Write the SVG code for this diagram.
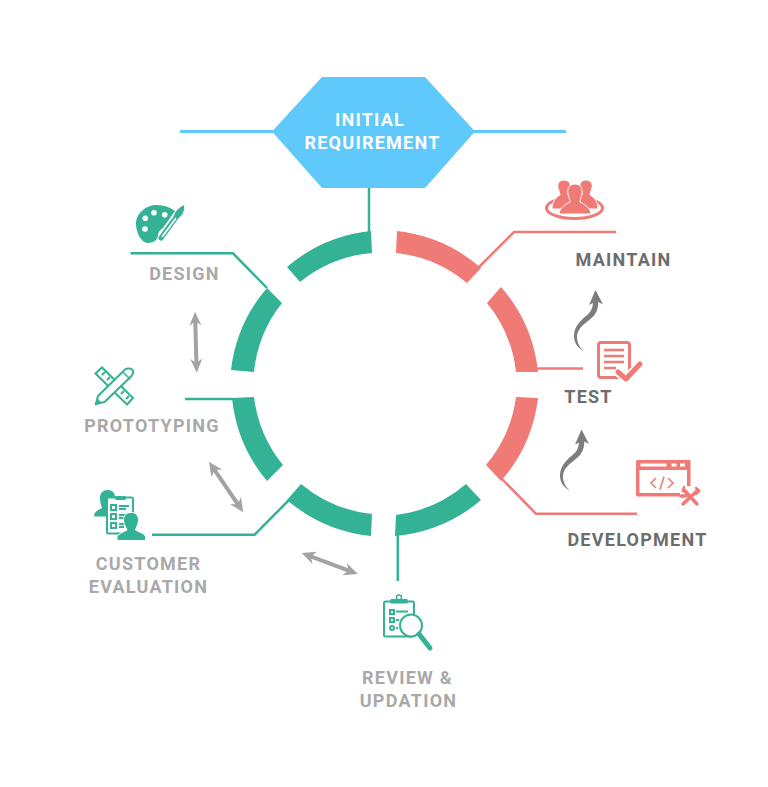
<svg xmlns="http://www.w3.org/2000/svg" width="768" height="787" viewBox="0 0 768 787">
<style>
.g{fill:#33b295}.r{fill:#ef7a76}
.cg,.cr,.cb{fill:none;stroke-width:2.5}
.cg{stroke:#33b295}.cr{stroke:#ef7a76}.cb{stroke:#5ec9fa;stroke-width:2.8}
.ga{fill:#a3a3a3}.da{fill:#7d7d7d}
text{font-family:Roboto,"Liberation Sans",sans-serif;font-weight:700;font-size:18px;text-anchor:middle;letter-spacing:1.25px}
.l{fill:#a9a9a9}.d{fill:#6d6d6d}.w{fill:#fff}
.og{fill:none;stroke:#33b295;stroke-width:2}
</style>
<rect width="768" height="787" fill="#fff"/>
<g id="connectors">
<path class="cb" d="M180,131.500H566"/>
<path class="cg" d="M369,188V232"/>
<path class="cg" d="M130.500,253.300H233L267,288"/>
<path class="cg" d="M185,399H233"/>
<path class="cg" d="M152,534.800H254.500L289,500"/>
<path class="cg" d="M397.800,515V581"/>
<path class="cr" d="M501,478L536,513.800H637"/>
<path class="cr" d="M537,368.500H583"/>
<path class="cr" d="M478,268L514,232H616"/>
<g id="double-arrows" class="ga">
<path d="M195,311.700L201.400,325.500L197.300,322.600L198.400,361.600L202.300,358.500L196.700,372.700L190.300,358.900L194.400,361.800L193.300,322.800L189.400,325.900Z"/>
<path d="M209,461.700L222.200,469.700L216.900,469.700L238.800,502.100L240.900,497.100L243.300,512.300L230.100,504.300L235.400,504.300L213.500,471.900L211.400,476.900Z"/>
<path d="M301.700,553L317.100,551.800L312.700,555L348.100,568.200L346.900,563L357.700,574L342.300,575.200L346.700,572L311.300,558.800L312.500,564Z"/>
</g>
<g id="curly-arrows" class="da">
<path id="ca" d="M595.500,290L603,304.500L598.300,302C598.300,312 594,316.500 588,321C581,326 577,331 577,337C577,343 580,348 584,351C577,348 573.500,341 574,335C574.500,326 581,320 586,316C590,313 592.500,309 593,303L589,305Z"/>
<use href="#ca" x="-14" y="139.500"/>
</g>
</g>
<g id="ring">
<path class="g" d="M287,267A153,153 0 0 1 371,231L372,253A132,132 0 0 0 300,282Z"/>
<path class="g" d="M231,370A153,153 0 0 1 267,288L282,303A132,132 0 0 0 254,372Z"/>
<path class="g" d="M267,481A153,153 0 0 1 232,398L254,397A132,132 0 0 0 283,465Z"/>
<path class="g" d="M371,536A153,153 0 0 1 287,500L301,484A132,132 0 0 0 372,514Z"/>
<path class="g" d="M395,536L396,515A132,132 0 0 0 466,484L481,500A153,153 0 0 1 395,536Z"/>
<path class="r" d="M501,481L486,465A132,132 0 0 0 516,397L538,398A153,153 0 0 1 501,481Z"/>
<path class="r" d="M538,372L516,372A132,132 0 0 0 487,303L501,287A153,153 0 0 1 538,372Z"/>
<path class="r" d="M397,231A153,153 0 0 1 481,268L467,283A132,132 0 0 0 396,253Z"/>
</g>
<g id="initial-requirement">
<polygon points="272,131.500 322,77 425,77 475,131.500 425,188 322,188" fill="#5ec9fa"/>
<text class="w" x="370" y="126">INITIAL</text>
<text class="w" x="372.500" y="149">REQUIREMENT</text>
</g>
<g id="design">
<path class="g" d="M157,205C164,205 170,207 175,211L163,228C160,230 158,232 158,235C158,240 153,243 148,243C141,243 136,232 136,224C136,213 146,205 157,205Z"/>
<path d="M177,216L161,238" stroke="#33b295" stroke-width="5" stroke-linecap="round" fill="none"/>
<path d="M176,218L162,237" stroke="#fff" stroke-width="1.800" fill="none"/>
<path class="g" d="M184,205C185,211 182,216 177,219L174,215C176,210 180,207 184,205Z"/>
<g fill="#fff"><circle cx="154" cy="212.700" r="2.800"/><circle cx="164.700" cy="214.700" r="2.800"/><circle cx="145.300" cy="218.300" r="2.800"/><circle cx="145" cy="229" r="2.800"/></g>
<text class="l" x="184.500" y="280">DESIGN</text>
</g>
<g id="prototyping">
<g class="og"><path d="M95.500,373.500L102,367.500L133,398L127,404.500Z"/><path d="M102,375L105,372M107,380L110,377M121,394L124,391M126,399L129,396"/>
<path fill="#fff" d="M96,404L98,396L125,369.500C127,368 131,368 132.500,370C134,372 133,374 131.500,376L104.500,402Z"/><path d="M123,372L130,379" stroke-width="1.500"/></g>
<path class="g" d="M94.500,405.500L97,398L102,403Z"/>
<text class="l" x="152" y="432">PROTOTYPING</text>
</g>
<g id="customer-evaluation">
<path class="g" d="M107.500,490C112,490 114.500,492 115,497H107V516.500H94C94,512 98,510 102,508C101,505 100,502 100,498C100,493 103,490 107.500,490Z"/>
<rect x="107" y="497.500" width="26" height="36" rx="1.500" fill="#fff" stroke="#33b295" stroke-width="2"/>
<rect x="115" y="496" width="11" height="4" rx="1.500" class="g"/>
<g class="og" stroke-width="1.500"><rect x="111" y="505" width="5" height="5"/><rect x="111" y="514" width="5" height="5"/><rect x="111" y="523" width="5" height="5"/><path d="M119,506H129M119,509H126M119,515H125M119,518H124M119,524H124M119,527H124"/></g>
<path class="g" stroke="#fff" stroke-width="1" d="M131,512.500C136,512.500 139,516 138.500,521C138,525 136,527.500 135.500,530C139,532 144,533 145.500,536.500V540.500H117V536.500C119,533 124,532 127,530C126,527.500 124,525 123.500,521C123,516 126,512.500 131,512.500Z"/>
<text class="l" x="148.500" y="570">CUSTOMER</text>
<text class="l" x="148.500" y="593">EVALUATION</text>
</g>
<g id="review-updation">
<rect x="384" y="601.500" width="30" height="35" rx="1.500" fill="none" stroke="#33b295" stroke-width="2"/>
<rect x="390" y="599" width="18" height="4.500" rx="1.500" class="g"/>
<circle cx="399" cy="597.500" r="2.500" fill="none" stroke="#33b295" stroke-width="1.500"/>
<g class="og" stroke-width="1.500"><rect x="390" y="610" width="4" height="4"/><rect x="390" y="618" width="4" height="4"/><circle cx="392" cy="628" r="2"/><path d="M396,611.500H408M396,620H399M396,628H398"/></g>
<circle cx="411" cy="625.500" r="11" fill="#fff" stroke="#33b295" stroke-width="2"/>
<path d="M419,634L430,648" stroke="#33b295" stroke-width="5" stroke-linecap="round" fill="none"/>
<text class="l" x="407.500" y="684">REVIEW &amp;</text>
<text class="l" x="408.500" y="707">UPDATION</text>
</g>
<g id="development">
<path class="r" d="M636,461.500C636,460.500 637,460 638,460H689C690,460 690.500,460.500 690.500,461.500V486H687V470H639.500V493H680V496.500H638C637,496.500 636,496 636,495Z"/>
<g fill="#fff"><rect x="640.500" y="463.500" width="26" height="3"/><rect x="671.500" y="463.500" width="5" height="3"/><rect x="680" y="463.500" width="5" height="3"/></g>
<path d="M656,478L651,483L656,488M668,478L673,483L668,488M664,476.500L660,489.500" fill="none" stroke="#ef7a76" stroke-width="1.600"/>
<g stroke="#ef7a76" stroke-linecap="round" fill="none"><path stroke-width="3.500" d="M684,490L697,504M698,490L683,504M681,496H686"/><path stroke-width="2.500" d="M684,487L683,491L686,492M696,488L699,491L696,494"/></g>
<text class="d" x="637.500" y="546">DEVELOPMENT</text>
</g>
<g id="test">
<rect x="598.500" y="342.500" width="31" height="35" rx="2.500" fill="none" stroke="#ef7a76" stroke-width="3"/>
<path d="M604,350H624M604,356H624M604,362H624M604,368H616" stroke="#ef7a76" stroke-width="2.500"/>
<path d="M618,372L626,379L640,364" fill="none" stroke="#fff" stroke-width="9"/>
<path d="M618,372L626,379L640,364" fill="none" stroke="#ef7a76" stroke-width="5" stroke-linecap="round" stroke-linejoin="round"/>
<text class="d" x="588.500" y="403">TEST</text>
</g>
<g id="maintain">
<ellipse cx="574.500" cy="208" rx="28" ry="10.500" fill="#fff" stroke="#ef7a76" stroke-width="3"/>
<ellipse cx="574.500" cy="206.500" rx="23" ry="8" fill="#fff"/>
<g class="r" stroke="#fff" stroke-width="1">
<path d="M564,180C569,180 571,184 570,188C569,191 568,193 568,195C572,197 576,198 576,203L574,209H552C552,204 554,198 560,195C560,193 559,191 558,188C557,184 559,180 564,180Z"/>
<path d="M586,180C591,180 593,184 592,188C591,191 590,193 590,195C596,198 598,204 598,209H576L574,203C574,198 578,197 582,195C582,193 581,191 580,188C579,184 581,180 586,180Z"/>
<path d="M575,184C581,184 583,189 582,194C581,198 580,200 580,202C585,205 590,207 591,214H559C560,207 565,205 570,202C570,200 569,198 568,194C567,189 569,184 575,184Z"/>
</g>
<text class="d" x="623.500" y="266">MAINTAIN</text>
</g>
</svg>
